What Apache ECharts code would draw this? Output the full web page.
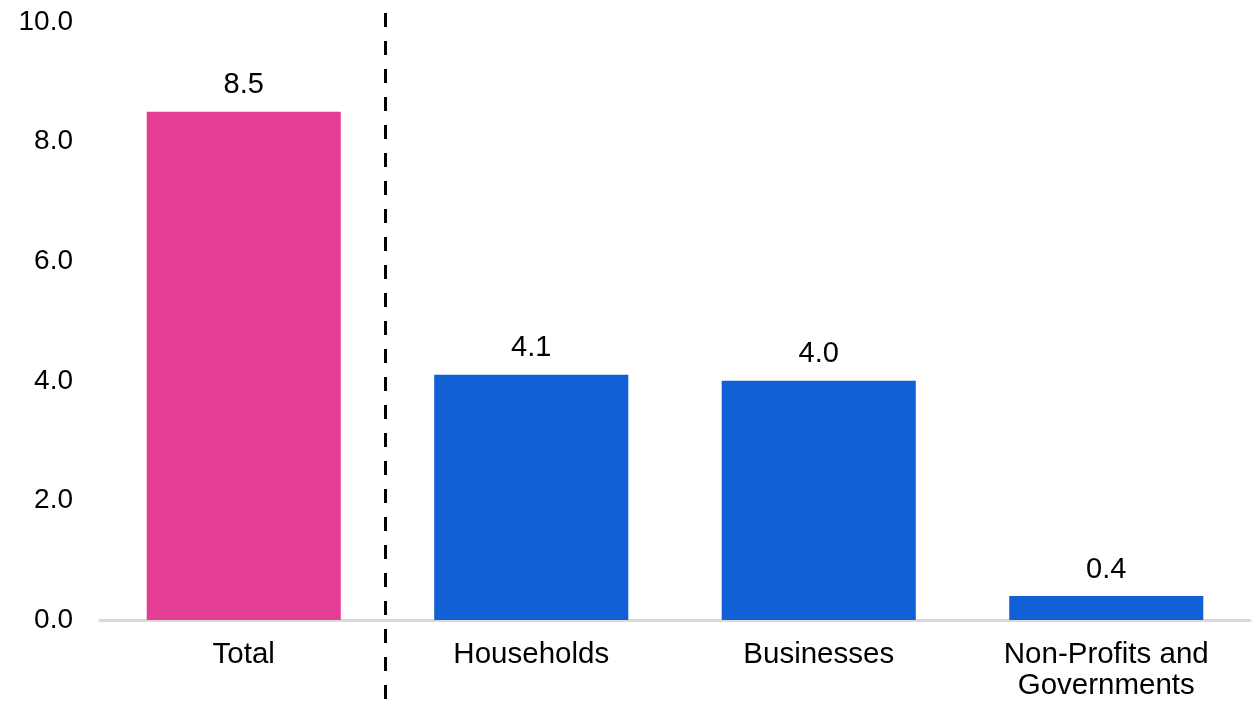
<!DOCTYPE html>
<html>
<head>
<meta charset="utf-8">
<script src="https://cdn.jsdelivr.net/npm/echarts@6/dist/echarts.min.js"></script>
<style>
  html, body { margin: 0; padding: 0; background: #fff; }
  #chart { width: 1255px; height: 701px; }
</style>
</head>
<body>
<div id="chart"></div>
<script>
// Categories and values
const categories = ['Total', 'Households', 'Businesses', 'Non-Profits and\nGovernments'];
const values = [8.5, 4.1, 4.0, 0.4];
const barColors = ['#E33D94', '#1160D5', '#1160D5', '#1160D5'];
const yTicks = { min: 0, max: 10, interval: 2 };

const FONT = '"Liberation Sans", Arial, sans-serif';

const chart = echarts.init(document.getElementById('chart'), null, { renderer: 'canvas' });

const option = {
  animation: false,
  grid: { left: 100, right: 5, top: 22, bottom: 80, containLabel: false },
  xAxis: {
    type: 'category',
    data: categories,
    axisLine: { show: true, lineStyle: { color: '#d9d9d9', width: 3 } },
    axisTick: { show: false },
    axisLabel: {
      color: '#000', fontFamily: FONT, fontSize: 29.5, margin: 19, lineHeight: 31,
      interval: 0
    },
    splitLine: { show: false }
  },
  yAxis: {
    type: 'value',
    min: yTicks.min, max: yTicks.max, interval: yTicks.interval,
    axisLine: { show: false },
    axisTick: { show: false },
    splitLine: { show: false },
    axisLabel: {
      color: '#000', fontFamily: FONT, fontSize: 28, margin: 27,
      formatter: v => v.toFixed(1)
    }
  },
  series: [{
    type: 'bar',
    data: values.map((v, i) => ({ value: v, itemStyle: { color: barColors[i] } })),
    barWidth: '67.5%',
    label: {
      show: true, position: 'top', distance: 12,
      color: '#000', fontFamily: FONT, fontSize: 29,
      formatter: p => p.value.toFixed(1)
    }
  }]
};

chart.setOption(option);

// Dashed separator between the total and its components
function drawSeparator() {
  const x0 = chart.convertToPixel({ xAxisIndex: 0 }, 0);
  const x1 = chart.convertToPixel({ xAxisIndex: 0 }, 1);
  const x = (x0 + x1) / 2 - 2;
  chart.setOption({
    graphic: [{
      type: 'line',
      shape: { x1: x, y1: 13, x2: x, y2: 701 },
      style: { stroke: '#000', lineWidth: 3, lineDash: [14, 14] },
      z: 10
    }]
  });
}
drawSeparator();
</script>
</body>
</html>
